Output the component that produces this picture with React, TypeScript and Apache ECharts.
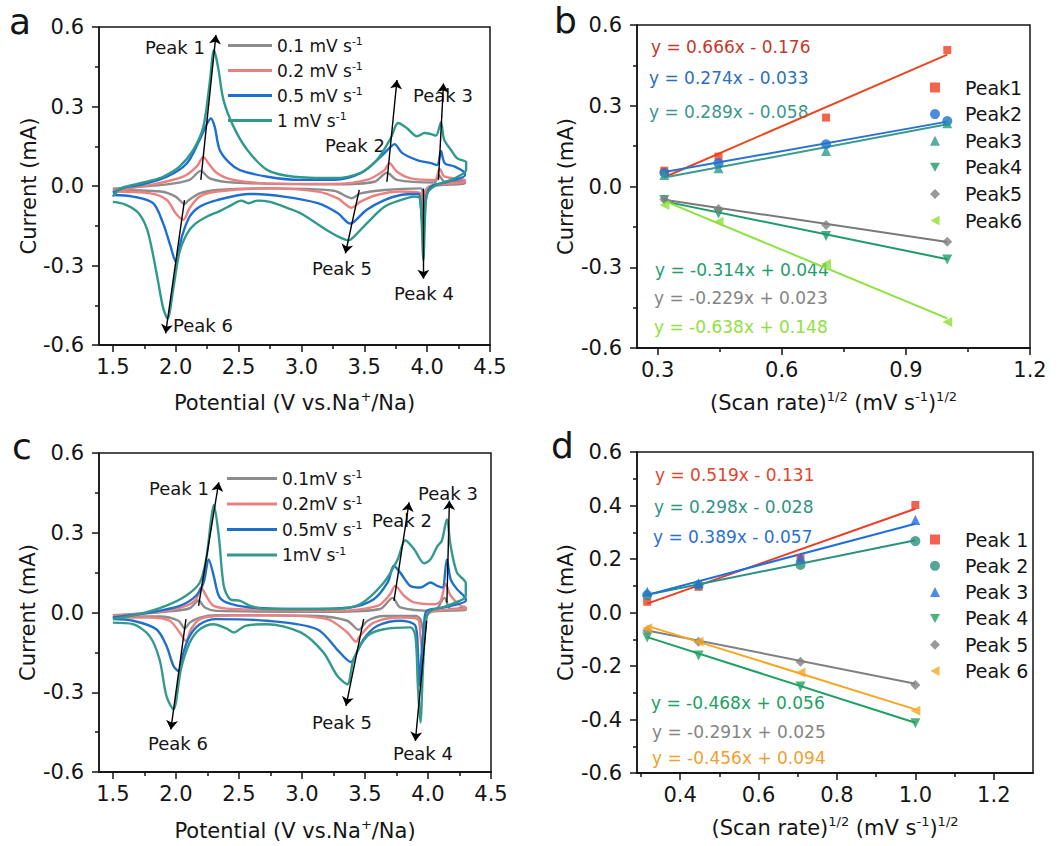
import React, { useEffect, useRef } from "react";
import * as echarts from "echarts";

const FONT = "'DejaVu Sans', 'Liberation Sans', Arial, sans-serif";
const INK = "#151515";

// ---------- Panel a: CV curves, [potential V, current mA], anodic then cathodic branch ----------
const A_LABELS = ["0.1 mV s", "0.2 mV s", "0.5 mV s", "1 mV s"];
const A_COLORS = ["#8c8c8c", "#ee7f7f", "#1f6fd2", "#2f998c"];
const A_CV_01 = [[1.5,-0.01],[1.93,0.006],[2.11,0.023],[2.2,0.057],[2.27,0.029],[2.46,0.013],[3.26,0.006],[3.58,0.016],[3.68,0.05],[3.76,0.023],[4.06,0.013],[4.09,0.042],[4.14,0.016],[4.3,0.02],
  [4.3,0.01],[4.03,0.0],[3.99,-0.02],[3.97,-0.05],[3.95,-0.009],[3.66,-0.015],[3.47,-0.028],[3.4,-0.046],[3.26,-0.018],[2.73,-0.009],[2.33,-0.015],[2.19,-0.028],[2.1,-0.055],[2.07,-0.068],[2.0,-0.04],[1.88,-0.021],[1.5,-0.015]];
const A_CV_02 = [[1.5,-0.018],[1.8,0.004],[2.06,0.035],[2.17,0.075],[2.22,0.11],[2.26,0.086],[2.33,0.048],[2.46,0.023],[2.73,0.01],[3.26,0.008],[3.52,0.023],[3.66,0.06],[3.7,0.086],[3.76,0.054],[3.87,0.029],[4.06,0.023],[4.1,0.064],[4.14,0.035],[4.3,0.023],
  [4.3,0.016],[4.06,0.004],[3.99,-0.015],[3.97,-0.1],[3.95,-0.028],[3.79,-0.021],[3.6,-0.034],[3.47,-0.059],[3.4,-0.082],[3.29,-0.047],[3.13,-0.021],[2.73,-0.009],[2.33,-0.021],[2.19,-0.04],[2.11,-0.084],[2.06,-0.128],[2.0,-0.103],[1.93,-0.053],[1.8,-0.028],[1.5,-0.021]];
const A_CV_05 = [[1.5,-0.025],[1.6,-0.005],[1.72,0.004],[1.93,0.035],[2.09,0.086],[2.19,0.174],[2.25,0.236],[2.28,0.255],[2.31,0.224],[2.35,0.136],[2.43,0.086],[2.51,0.06],[2.73,0.035],[2.99,0.023],[3.26,0.023],[3.47,0.048],[3.63,0.11],[3.71,0.148],[3.74,0.158],[3.8,0.125],[3.92,0.098],[4.03,0.086],[4.08,0.079],[4.11,0.132],[4.14,0.086],[4.22,0.073],[4.3,0.048],
  [4.3,0.04],[4.16,0.016],[4.03,-0.003],[3.99,-0.05],[3.97,-0.18],[3.95,-0.078],[3.93,-0.03],[3.79,-0.034],[3.66,-0.053],[3.52,-0.09],[3.43,-0.13],[3.39,-0.142],[3.29,-0.103],[3.13,-0.065],[2.86,-0.04],[2.59,-0.03],[2.33,-0.053],[2.19,-0.078],[2.11,-0.116],[2.05,-0.19],[2.0,-0.285],[1.96,-0.229],[1.9,-0.141],[1.82,-0.065],[1.66,-0.04],[1.5,-0.034]];
const A_CV_1 = [[1.5,-0.04],[1.56,-0.01],[1.66,0.004],[1.8,0.02],[1.9,0.035],[2.03,0.073],[2.14,0.136],[2.22,0.224],[2.27,0.387],[2.305,0.513],[2.34,0.44],[2.38,0.325],[2.46,0.224],[2.57,0.136],[2.73,0.06],[2.94,0.035],[3.26,0.03],[3.47,0.05],[3.6,0.098],[3.71,0.18],[3.77,0.238],[3.84,0.218],[3.92,0.188],[3.98,0.2],[4.03,0.196],[4.07,0.19],[4.11,0.24],[4.135,0.175],[4.19,0.136],[4.24,0.104],[4.31,0.09],
  [4.31,0.06],[4.2,0.025],[4.06,0.0],[4.0,-0.03],[3.985,-0.1],[3.97,-0.28],[3.955,-0.12],[3.94,-0.045],[3.9,-0.04],[3.79,-0.053],[3.66,-0.078],[3.52,-0.141],[3.42,-0.19],[3.375,-0.205],[3.31,-0.195],[3.2,-0.166],[3.0,-0.105],[2.9,-0.085],[2.75,-0.06],[2.65,-0.055],[2.58,-0.065],[2.52,-0.055],[2.45,-0.07],[2.35,-0.095],[2.25,-0.115],[2.15,-0.145],[2.09,-0.18],[2.03,-0.25],[1.98,-0.39],[1.935,-0.5],[1.9,-0.46],[1.86,-0.36],[1.82,-0.26],[1.77,-0.16],[1.7,-0.1],[1.6,-0.07],[1.5,-0.06]];
const A_ARROWS = [[[2.2,0.023],[2.32,0.57]],[[3.68,0.016],[3.76,0.4]],[[4.09,0.023],[4.13,0.387]],[[3.97,-0.009],[3.97,-0.35]],[[3.46,-0.015],[3.35,-0.254]],[[2.07,-0.053],[1.92,-0.556]]];

// ---------- Panel c ----------
const C_LABELS = ["0.1mV s", "0.2mV s", "0.5mV s", "1mV s"];
const C_COLORS = ["#8c8c8c", "#e98383", "#2170c8", "#35998e"];
const C_CV_01 = [[1.5,-0.01],[1.92,0.003],[2.11,0.016],[2.18,0.045],[2.23,0.019],[2.32,0.006],[3.25,0.003],[3.62,0.013],[3.72,0.055],[3.78,0.019],[4.05,0.006],[4.13,0.055],[4.18,0.013],[4.3,0.019],
  [4.3,0.01],[4.02,0.003],[3.99,-0.013],[3.97,-0.085],[3.94,-0.025],[3.9,-0.013],[3.65,-0.013],[3.52,-0.031],[3.45,-0.065],[3.36,-0.031],[3.12,-0.013],[2.32,-0.01],[2.19,-0.019],[2.11,-0.038],[2.07,-0.06],[2.02,-0.031],[1.87,-0.015],[1.5,-0.015]];
const C_CV_02 = [[1.5,-0.013],[1.92,0.006],[2.08,0.025],[2.16,0.05],[2.2,0.094],[2.24,0.063],[2.3,0.025],[2.46,0.013],[3.25,0.006],[3.6,0.025],[3.7,0.069],[3.74,0.1],[3.81,0.063],[3.89,0.038],[4.05,0.031],[4.1,0.044],[4.14,0.107],[4.18,0.063],[4.26,0.025],[4.3,0.019],
  [4.3,0.015],[4.05,0.006],[3.99,-0.013],[3.97,-0.1],[3.96,-0.166],[3.94,-0.088],[3.92,-0.025],[3.78,-0.019],[3.57,-0.038],[3.46,-0.088],[3.43,-0.11],[3.36,-0.075],[3.2,-0.025],[2.72,-0.01],[2.32,-0.013],[2.19,-0.025],[2.12,-0.063],[2.08,-0.107],[2.03,-0.075],[1.95,-0.031],[1.79,-0.019],[1.5,-0.019]];
const C_CV_05 = [[1.5,-0.019],[1.79,0.0],[2.03,0.025],[2.16,0.063],[2.22,0.113],[2.26,0.2],[2.3,0.138],[2.34,0.063],[2.4,0.038],[2.59,0.019],[2.99,0.013],[3.38,0.019],[3.57,0.05],[3.68,0.113],[3.73,0.176],[3.78,0.15],[3.86,0.1],[3.94,0.094],[4.02,0.113],[4.075,0.1],[4.115,0.094],[4.15,0.2],[4.18,0.125],[4.23,0.088],[4.3,0.05],
  [4.3,0.044],[4.13,0.019],[3.99,0.006],[3.97,-0.038],[3.95,-0.15],[3.93,-0.276],[3.92,-0.15],[3.9,-0.05],[3.78,-0.031],[3.6,-0.05],[3.49,-0.1],[3.41,-0.176],[3.39,-0.186],[3.3,-0.15],[3.12,-0.063],[2.72,-0.031],[2.32,-0.025],[2.19,-0.044],[2.11,-0.088],[2.06,-0.15],[2.02,-0.22],[1.98,-0.2],[1.925,-0.125],[1.845,-0.063],[1.66,-0.031],[1.5,-0.025]];
const C_CV_1 = [[1.5,-0.025],[1.71,-0.006],[1.92,0.025],[2.08,0.063],[2.19,0.113],[2.24,0.2],[2.28,0.351],[2.3,0.405],[2.34,0.289],[2.38,0.1],[2.43,0.05],[2.51,0.044],[2.59,0.025],[2.72,0.013],[3.25,0.013],[3.46,0.031],[3.65,0.113],[3.76,0.2],[3.82,0.272],[3.89,0.238],[3.97,0.185],[4.02,0.2],[4.075,0.25],[4.11,0.27],[4.15,0.35],[4.18,0.25],[4.23,0.15],[4.3,0.11],
  [4.3,0.063],[4.15,0.025],[4.02,0.006],[3.985,-0.025],[3.96,-0.213],[3.94,-0.414],[3.92,-0.276],[3.9,-0.088],[3.86,-0.056],[3.65,-0.063],[3.52,-0.088],[3.41,-0.176],[3.36,-0.27],[3.28,-0.238],[3.17,-0.15],[2.99,-0.075],[2.72,-0.044],[2.55,-0.05],[2.46,-0.075],[2.4,-0.06],[2.3,-0.044],[2.19,-0.063],[2.11,-0.113],[2.04,-0.213],[1.98,-0.364],[1.925,-0.314],[1.87,-0.176],[1.79,-0.088],[1.66,-0.044],[1.5,-0.038]];
const C_ARROWS = [[[2.18,0.025],[2.34,0.49]],[[3.73,0.044],[3.85,0.414]],[[4.15,0.038],[4.17,0.42]],[[3.99,-0.031],[3.9,-0.483]],[[3.49,-0.025],[3.35,-0.351]],[[2.08,-0.025],[1.96,-0.44]]];

// ---------- Panels b and d: peak current vs sqrt(scan rate) ----------
const SQRT_RATE = [0.316, 0.447, 0.707, 1.0];

const B_NAMES = ["Peak1", "Peak2", "Peak3", "Peak4", "Peak5", "Peak6"];
const B_PEAK1 = [0.059, 0.111, 0.256, 0.507];
const B_PEAK2 = [0.051, 0.086, 0.157, 0.243];
const B_PEAK3 = [0.043, 0.068, 0.132, 0.235];
const B_PEAK4 = [-0.05, -0.1, -0.184, -0.271];
const B_PEAK5 = [-0.048, -0.084, -0.143, -0.205];
const B_PEAK6 = [-0.069, -0.131, -0.288, -0.503];
const B_SLOPE = [0.666, 0.274, 0.289, -0.314, -0.229, -0.638];
const B_INTERCEPT = [-0.176, -0.033, -0.058, 0.044, 0.023, 0.148];
const B_COLORS = ["#ef3d1e", "#1f6fd6", "#2a9a88", "#1a9a6a", "#808080", "#8ee03a"];
const B_LINE_COLORS = ["#e8461f", "#2a72d0", "#3a9a8e", "#1e9a6a", "#7a7a7a", "#8ce23e"];
const B_TEXT_COLORS = ["#c4382a", "#2a6fc0", "#3b978b", "#1f9c6c", "#858585", "#92e040"];

const D_NAMES = ["Peak 1", "Peak 2", "Peak 3", "Peak 4", "Peak 5", "Peak 6"];
const D_PEAK1 = [0.04, 0.096, 0.203, 0.402];
const D_PEAK2 = [0.065, 0.103, 0.178, 0.267];
const D_PEAK3 = [0.078, 0.109, 0.206, 0.346];
const D_PEAK4 = [-0.093, -0.161, -0.277, -0.414];
const D_PEAK5 = [-0.068, -0.109, -0.184, -0.271];
const D_PEAK6 = [-0.059, -0.109, -0.224, -0.367];
const D_SLOPE = [0.519, 0.298, 0.389, -0.468, -0.291, -0.456];
const D_INTERCEPT = [-0.131, -0.028, -0.057, 0.056, 0.025, 0.094];
const D_COLORS = ["#ee3b24", "#2a9080", "#1f6fe0", "#1fa060", "#808080", "#f5a623"];
const D_TEXT_COLORS = ["#e0452a", "#2e9484", "#2a70d0", "#20a060", "#858585", "#f0a030"];

const SYMBOLS = ["rect", "circle", "triangle", "triangle", "diamond", "triangle"];
const SYMBOL_ROT = [0, 0, 0, 180, 0, 90];
const LEGEND_ICONS = ["rect", "circle", "triangle", "path://M0,0 L10,0 L5,9 Z", "diamond", "path://M9,0 L9,10 L0,5 Z"];

const CV_X_TICKS = [1.5, 2.0, 2.5, 3.0, 3.5, 4.0, 4.5];
const CV_X_MINOR = [1.75, 2.25, 2.75, 3.25, 3.75, 4.25];
const B_X_TICKS = [0.3, 0.6, 0.9, 1.2];
const B_X_MINOR = [0.45, 0.75, 1.05];
const D_X_TICKS = [0.4, 0.6, 0.8, 1.0, 1.2];
const D_X_MINOR = [0.3, 0.5, 0.7, 0.9, 1.1];

const eqText = (s: number, i: number) =>
  `y = ${s.toFixed(3)}x ${i < 0 ? "-" : "+"} ${Math.abs(i).toFixed(3)}`;

const SUP = { fontSize: 12, fontFamily: FONT, color: INK, verticalAlign: "top", lineHeight: 12 };

export default function App() {
  const ref = useRef<HTMLDivElement>(null);
  useEffect(() => {
    if (!ref.current) return;
    const chart = echarts.init(ref.current, undefined, { renderer: "svg" });

    const gridBoxes = [
      { left: 99, top: 27, width: 391, height: 318 },
      { left: 637, top: 25, width: 393, height: 323 },
      { left: 99, top: 453, width: 392, height: 319 },
      { left: 637, top: 452, width: 396, height: 321 },
    ];
    const grids = gridBoxes.map((g) => ({ ...g, show: true, borderColor: INK, borderWidth: 1.5, backgroundColor: "transparent" }));

    const axisLine = { show: true, onZero: false, lineStyle: { color: INK, width: 1.5 } };
    const labelStyle = { fontSize: 21, fontFamily: FONT, color: INK };
    const nameStyle = {
      fontSize: 21, fontFamily: FONT, color: INK,
      rich: { m: { fontSize: 21, fontFamily: FONT, color: INK, lineHeight: 25 }, s: { ...SUP, fontSize: 13, lineHeight: 13 } },
    };

    const xMain = (gi: number, min: number, max: number, ticks: number[], name: string, gap: number) => ({
      type: "value", gridIndex: gi, min, max, position: "bottom",
      axisLine, splitLine: { show: false },
      axisTick: { show: true, customValues: ticks, length: 7, lineStyle: { color: INK, width: 1.5 } },
      axisLabel: { customValues: ticks, formatter: (v: number) => v.toFixed(1), margin: 11, ...labelStyle },
      name, nameLocation: "middle", nameGap: gap, nameTextStyle: nameStyle,
    });
    // second x axis in each grid carries only the short minor ticks
    const xMinor = (gi: number, min: number, max: number, ticks: number[]) => ({
      type: "value", gridIndex: gi, min, max, position: "bottom",
      axisLine: { show: true, onZero: false, lineStyle: { color: INK, width: 1.5 } },
      splitLine: { show: false },
      axisLabel: { show: true, customValues: ticks, formatter: () => "", fontSize: 1 },
      axisTick: { show: true, customValues: ticks, length: 4, lineStyle: { color: INK, width: 1.5 } },
    });
    const yMain = (gi: number, interval: number, gap: number) => ({
      type: "value", gridIndex: gi, min: -0.6, max: 0.6, interval,
      axisLine, splitLine: { show: false },
      axisTick: { show: true, length: 7, lineStyle: { color: INK, width: 1.5 } },
      minorTick: { show: true, splitNumber: 2, length: 4, lineStyle: { color: INK, width: 1.5 } },
      axisLabel: { formatter: (v: number) => v.toFixed(1), margin: 15, ...labelStyle },
      name: "Current (mA)", nameLocation: "middle", nameGap: gap, nameTextStyle: nameStyle,
    });

    const xAxis = [
      xMain(0, 1.39, 4.5, CV_X_TICKS, "{m|Potential (V vs.Na}{s|+}{m|/Na)}", 45),
      xMain(1, 0.25, 1.2, B_X_TICKS, "{m|(Scan rate)}{s|1/2}{m| (mV s}{s|-1}{m|)}{s|1/2}", 42),
      xMain(2, 1.39, 4.5, CV_X_TICKS, "{m|Potential (V vs.Na}{s|+}{m|/Na)}", 46),
      xMain(3, 0.29, 1.3, D_X_TICKS, "{m|(Scan rate)}{s|1/2}{m| (mV s}{s|-1}{m|)}{s|1/2}", 42),
      xMinor(0, 1.39, 4.5, CV_X_MINOR),
      xMinor(1, 0.25, 1.2, B_X_MINOR),
      xMinor(2, 1.39, 4.5, CV_X_MINOR),
      xMinor(3, 0.29, 1.3, D_X_MINOR),
    ];
    const yAxis = [yMain(0, 0.3, 53), yMain(1, 0.3, 61), yMain(2, 0.3, 61), yMain(3, 0.2, 61)];

    const series: any[] = [];
    const cvSets = [
      { gi: 0, labels: A_LABELS, colors: A_COLORS, data: [A_CV_01, A_CV_02, A_CV_05, A_CV_1], arrows: A_ARROWS },
      { gi: 2, labels: C_LABELS, colors: C_COLORS, data: [C_CV_01, C_CV_02, C_CV_05, C_CV_1], arrows: C_ARROWS },
    ];
    cvSets.forEach((set) => {
      set.data.forEach((d, k) => {
        series.push({
          type: "line", name: set.labels[k] + "-1", xAxisIndex: set.gi, yAxisIndex: set.gi,
          data: d, showSymbol: false, symbol: "none", smooth: 0.3,
          lineStyle: { color: set.colors[k], width: 2.4 }, itemStyle: { color: set.colors[k] },
        });
      });
      series.push({
        type: "lines", coordinateSystem: "cartesian2d", xAxisIndex: set.gi, yAxisIndex: set.gi,
        symbol: ["none", "arrow"], symbolSize: 9, silent: true,
        lineStyle: { color: "#000", width: 1.4, opacity: 1, curveness: 0 },
        data: set.arrows.map((c) => ({ coords: c })), z: 5,
      });
    });

    const fitSets = [
      { gi: 1, names: B_NAMES, peaks: [B_PEAK1, B_PEAK2, B_PEAK3, B_PEAK4, B_PEAK5, B_PEAK6], slope: B_SLOPE, icpt: B_INTERCEPT, colors: B_COLORS, lineColors: B_LINE_COLORS },
      { gi: 3, names: D_NAMES, peaks: [D_PEAK1, D_PEAK2, D_PEAK3, D_PEAK4, D_PEAK5, D_PEAK6], slope: D_SLOPE, icpt: D_INTERCEPT, colors: D_COLORS, lineColors: D_COLORS },
    ];
    fitSets.forEach((set) => {
      set.peaks.forEach((p, k) => {
        const x0 = SQRT_RATE[0];
        const x1 = SQRT_RATE[SQRT_RATE.length - 1];
        series.push({
          type: "line", name: "fit-" + set.gi + "-" + k, xAxisIndex: set.gi, yAxisIndex: set.gi,
          data: [[x0, set.slope[k] * x0 + set.icpt[k]], [x1, set.slope[k] * x1 + set.icpt[k]]],
          showSymbol: false, symbol: "none", silent: true,
          lineStyle: { color: set.lineColors[k], width: 2 }, z: 2,
        });
      });
      set.peaks.forEach((p, k) => {
        series.push({
          type: "scatter", name: set.names[k], xAxisIndex: set.gi, yAxisIndex: set.gi,
          data: SQRT_RATE.map((x, j) => [x, p[j]]),
          symbol: SYMBOLS[k], symbolRotate: SYMBOL_ROT[k], symbolSize: SYMBOLS[k] === "rect" ? 8 : 10,
          itemStyle: { color: set.colors[k] }, z: 3,
        });
      });
    });

    const cvLegend = (labels: string[], colors: string[], left: number, top: number, itemWidth: number, gap: number) => ({
      orient: "vertical", left, top, padding: 0, itemWidth, itemHeight: 3, itemGap: gap,
      data: labels.map((l, k) => ({ name: l + "-1", icon: "rect", itemStyle: { color: colors[k] } })),
      selectedMode: false,
      formatter: (n: string) => `{m|${n.slice(0, -2)}}{s|-1}`,
      textStyle: {
        fontSize: 17, fontFamily: FONT, color: INK,
        rich: { m: { fontSize: 17, fontFamily: FONT, color: INK, lineHeight: 19 }, s: { ...SUP, fontSize: 11, lineHeight: 11 } },
      },
    });
    const peakLegend = (names: string[], colors: string[], left: number, top: number, gap: number) => ({
      orient: "vertical", left, top, padding: 0, itemWidth: 10, itemHeight: 10, itemGap: gap,
      data: names.map((n, k) => ({ name: n, icon: LEGEND_ICONS[k], itemStyle: { color: colors[k] } })),
      selectedMode: false,
      textStyle: { fontSize: 19, fontFamily: FONT, color: INK, padding: [0, 0, 0, 20] },
    });
    const legend = [
      cvLegend(A_LABELS, A_COLORS, 228, 36, 44, 7),
      peakLegend(B_NAMES, B_COLORS, 930, 78, 7.6),
      cvLegend(C_LABELS, C_COLORS, 227, 469, 50, 7.5),
      peakLegend(D_NAMES, D_COLORS, 930, 530, 7.3),
    ];

    const txt = (text: string, x: number, y: number, size: number, fill = INK) => ({
      type: "text", x, y, silent: true,
      style: { text, fill, fontSize: size, fontFamily: FONT, verticalAlign: "middle", align: "left" },
    });
    const graphic: any[] = [
      txt("a", 9, 21, 36), txt("b", 554, 20, 36), txt("c", 12, 446, 36), txt("d", 551, 445, 36),
      txt("Peak 1", 145, 47, 18), txt("Peak 2", 325, 145, 18), txt("Peak 3", 413, 95, 18),
      txt("Peak 4", 394, 293, 18), txt("Peak 5", 312, 268, 18), txt("Peak 6", 173, 325, 18),
      txt("Peak 1", 149, 488, 18), txt("Peak 2", 372, 520, 18), txt("Peak 3", 418, 493, 18),
      txt("Peak 4", 393, 753, 18), txt("Peak 5", 312, 722, 18), txt("Peak 6", 148, 743, 18),
    ];
    const bPos = [[651, 47], [649, 78], [649, 112], [655, 270], [654, 298], [654, 327]];
    const dPos = [[655, 475], [654, 507], [653, 537], [651, 703], [652, 732], [652, 758]];
    bPos.forEach((p, k) => graphic.push(txt(eqText(B_SLOPE[k], B_INTERCEPT[k]), p[0], p[1], 17, B_TEXT_COLORS[k])));
    dPos.forEach((p, k) => graphic.push(txt(eqText(D_SLOPE[k], D_INTERCEPT[k]), p[0], p[1], 17, D_TEXT_COLORS[k])));

    chart.setOption({
      animation: false,
      backgroundColor: "#ffffff",
      textStyle: { fontFamily: FONT },
      grid: grids, xAxis, yAxis, series, legend, graphic,
    });
    return () => chart.dispose();
  }, []);
  return <div ref={ref} style={{ position: "absolute", left: 0, top: 0, width: 1060, height: 846, background: "#fff" }} />;
}
